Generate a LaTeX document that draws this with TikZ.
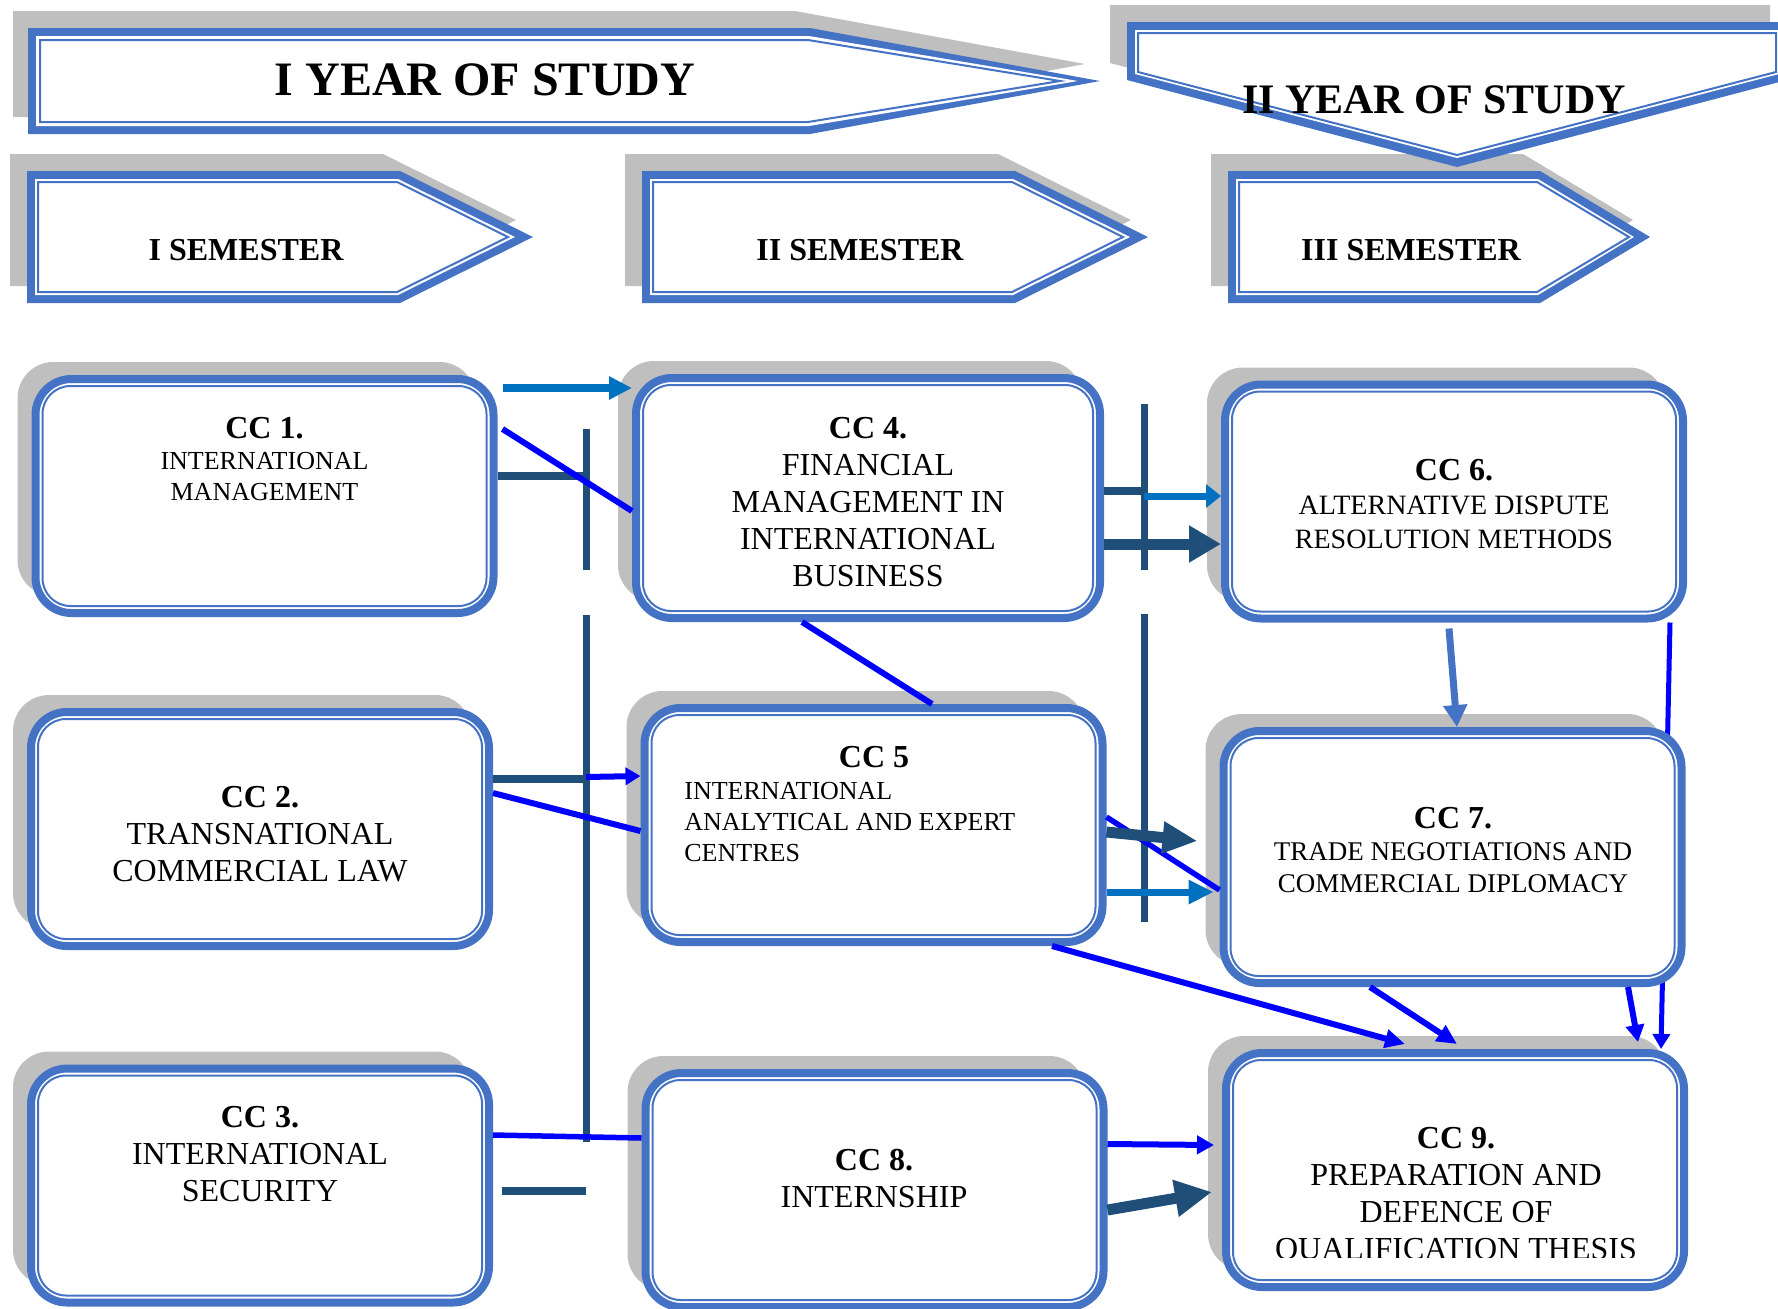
\documentclass[tikz,border=0pt]{standalone}
\usepackage{fontspec}
\setmainfont{Liberation Serif}
\usepackage{tikz}
\usetikzlibrary{shadows,arrows.meta}
\definecolor{boxblue}{HTML}{4472C4}
\definecolor{shadegray}{HTML}{BFBFBF}
\definecolor{navy}{HTML}{1F4E79}
\definecolor{midblue}{HTML}{0070C0}
\definecolor{pureblue}{HTML}{0000FF}
\pgfdeclarelayer{behind}
\pgfsetlayers{behind,main}
\newcommand{\cctitle}[1]{{\fontsize{16}{18.5}\selectfont\bfseries #1}}

\begin{document}
\begin{tikzpicture}[x=0.5pt,y=-0.5pt,
    thinblue/.style={draw=boxblue,line width=1pt},
    ccbox/.style={rectangle,draw=boxblue,fill=white,line width=4pt,rounded corners=18pt,
      minimum width=229pt,minimum height=117pt,
      drop shadow={shadow xshift=-9pt,shadow yshift=8.5pt,fill=shadegray,opacity=1}},
    cctext/.style={anchor=north,align=center,font=\fontsize{16}{18.5}\selectfont},
    cctextsmall/.style={cctext,font=\fontsize{13}{15.5}\selectfont},
    hdrtext/.style={anchor=base,font=\fontsize{16}{18}\bfseries\selectfont},
    navyline/.style={navy,line width=4pt},
    barline/.style={navy,line width=3.5pt},
    blueline/.style={pureblue,line width=3pt},
    bluearrow/.style={blueline,-{Triangle[length=8.5pt,width=9pt]}},
    midarrow/.style={midblue,line width=3.75pt,-{Triangle[length=9pt,width=11.5pt]}},
    bigarrow/.style={navy,line width=5.5pt,-{Triangle[length=16pt,width=17.5pt]}}]
  \tikzstyle{every node}+=[inner sep=0pt]
  \useasboundingbox (0,0) rectangle (1778,1308);

  \fill[shadegray] (13,11) -- (795,11) -- (1085,64) -- (795,117) -- (13,117) -- cycle;
  \fill[boxblue] (28,28) -- (810,28) -- (1100,81) -- (810,134) -- (28,134) -- cycle;
  \fill[white] (36,36) -- (809,36) -- (1078,81) -- (809,126) -- (36,126) -- cycle;
  \draw[thinblue] (40,40) -- (808,40) -- (1060,81) -- (808,122) -- (40,122) -- cycle;

  \fill[shadegray] (10,154) -- (383,154) -- (516,220) -- (383,286) -- (10,286) -- cycle;
  \fill[boxblue] (27,171) -- (400,171) -- (533,237) -- (400,303) -- (27,303) -- cycle;
  \fill[white] (35,179) -- (398,179) -- (515,237) -- (398,295) -- (35,295) -- cycle;
  \draw[thinblue] (38,182) -- (397,182) -- (508,237) -- (397,292) -- (38,292) -- cycle;

  \fill[shadegray] (625,154) -- (998,154) -- (1131,220) -- (998,286) -- (625,286) -- cycle;
  \fill[boxblue] (642,171) -- (1015,171) -- (1148,237) -- (1015,303) -- (642,303) -- cycle;
  \fill[white] (650,179) -- (1013,179) -- (1130,237) -- (1013,295) -- (650,295) -- cycle;
  \draw[thinblue] (653,182) -- (1012,182) -- (1123,237) -- (1012,292) -- (653,292) -- cycle;

  \fill[shadegray] (1211,154) -- (1523,154) -- (1633,220) -- (1523,286) -- (1211,286) -- cycle;
  \fill[boxblue] (1228,171) -- (1540,171) -- (1650,237) -- (1540,303) -- (1228,303) -- cycle;
  \fill[white] (1236,179) -- (1538,179) -- (1634,237) -- (1538,295) -- (1236,295) -- cycle;
  \draw[thinblue] (1239,182) -- (1537,182) -- (1629,237) -- (1537,292) -- (1239,292) -- cycle;

  \fill[shadegray] (1110,5) -- (1770,5) -- (1770,63) -- (1440,150) -- (1110,63) -- cycle;
  \fill[boxblue] (1127,22) -- (1787,22) -- (1787,80) -- (1457,167) -- (1127,80) -- cycle;
  \fill[white] (1135,30) -- (1779,30) -- (1779,74) -- (1457,158) -- (1135,74) -- cycle;
  \draw[thinblue] (1138,33) -- (1776,33) -- (1776,72) -- (1457,155) -- (1138,72) -- cycle;

  \node[hdrtext,font=\fontsize{24}{28}\bfseries\selectfont] (year1) at (485,95) {I YEAR OF STUDY};
  \node[hdrtext,font=\fontsize{21}{24}\bfseries\selectfont] (year2) at (1434,113) {II YEAR OF STUDY};
  \node[hdrtext] (sem1) at (246,260) {I SEMESTER};
  \node[hdrtext] (sem2) at (860,260) {II SEMESTER};
  \node[hdrtext] (sem3) at (1411,260) {III SEMESTER};

  \node[ccbox] (cc1) at (264.5,496) {};
  \node[ccbox,minimum width=232pt,minimum height=120pt] (cc4) at (868,498) {};
  \node[ccbox] (cc6) at (1454,501.5) {};
  \node[ccbox] (cc2) at (260,829) {};
  \node[ccbox] (cc5) at (873.5,825) {};
  \node[ccbox,minimum height=126pt] (cc7) at (1452.5,857) {};
  \node[ccbox] (cc3) at (260,1185.5) {};
  \node[ccbox] (cc8) at (874.5,1190) {};
  \node[ccbox] (cc9) at (1455,1170) {};
  \foreach \n in {cc1,cc2,cc3,cc4,cc5,cc6,cc7,cc8,cc9}
    \draw[thinblue,rounded corners=14pt] ([shift={(5.5pt,5.5pt)}]\n.south west) rectangle ([shift={(-5.5pt,-5.5pt)}]\n.north east);

  \node[cctextsmall] (cc1txt) at (264.5,417) {\cctitle{CC 1.}\\INTERNATIONAL\\MANAGEMENT};
  \node[cctext] (cc4txt) at (868,417) {\cctitle{CC 4.}\\FINANCIAL\\MANAGEMENT IN\\INTERNATIONAL\\BUSINESS};
  \node[cctext,font=\fontsize{14}{17}\selectfont] (cc6txt) at (1454,459) {\cctitle{CC 6.}\\ALTERNATIVE DISPUTE\\RESOLUTION METHODS};
  \node[cctext] (cc2txt) at (260,786) {\cctitle{CC 2.}\\TRANSNATIONAL\\COMMERCIAL LAW};
  \node[cctext] (cc5title) at (874,746) {\cctitle{CC 5}};
  \node[cctextsmall,anchor=north west,align=left] (cc5txt) at (684,782) {INTERNATIONAL\\ANALYTICAL AND EXPERT\\CENTRES};
  \node[cctext,font=\fontsize{13.5}{16}\selectfont] (cc7txt) at (1453,807) {\cctitle{CC 7.}\\TRADE NEGOTIATIONS AND\\COMMERCIAL DIPLOMACY};
  \node[cctext] (cc3txt) at (260,1106) {\cctitle{CC 3.}\\INTERNATIONAL\\SECURITY};
  \node[cctext] (cc8txt) at (874,1149) {\cctitle{CC 8.}\\INTERNSHIP};
  \begin{scope}
    \clip (1222,1048) rectangle (1688,1257);
    \node[cctext] (cc9txt) at (1456,1127) {\cctitle{CC 9.}\\PREPARATION AND\\DEFENCE OF\\QUALIFICATION THESIS};
  \end{scope}

  \coordinate (b1) at (586,0);
  \coordinate (b2) at (1144,0);
  \draw[barline] (b1 |- 0,429) -- (b1 |- 0,570);
  \draw[barline] (b1 |- 0,615) -- (b1 |- 0,1142);
  \draw[barline] (b2 |- 0,404) -- (b2 |- 0,570);
  \draw[barline] (b2 |- 0,614) -- (b2 |- 0,922);

  \draw[navyline] (cc1.east |- 0,476) -- (b1 |- 0,476);
  \draw[navyline] (cc2.east |- 0,779) -- (b1 |- 0,779);
  \draw[navyline] ([xshift=4.5pt]cc3.east |- 0,1191) -- (b1 |- 0,1191);
  \draw[navyline] (cc4.east |- 0,491) -- (b2 |- 0,491);

  \draw[midarrow,-{Triangle[length=11.5pt,width=11pt]}] ([xshift=2.5pt]cc1.east |- 0,388) -- (cc4.west |- 0,388);
  \draw[blueline] ([xshift=2.5pt]cc1.east |- 0,429) -- (cc4.west |- 0,511);
  \draw[midarrow,line width=3.5pt,-{Triangle[length=7.5pt,width=11.5pt]}] (b2 |- 0,496) -- (cc6.west |- 0,496);
  \draw[bigarrow] (cc4.east |- 0,544) -- (cc6.west |- 0,544);
  \draw[blueline] (cc4.south -| 802,0) -- (cc5.north -| 932,0);
  \draw[boxblue,line width=3.5pt,-{Triangle[length=11pt,width=11.5pt]}] ([yshift=-3pt]cc6.south -| 1449,0) -- (cc7.north -| 1457,0);
  \draw[bluearrow,line width=3pt,-{Triangle[length=7.5pt,width=8.5pt]}] (b1 |- 0,777) -- (cc5.west |- 0,776);
  \draw[blueline] (cc2.east |- 0,793) -- (cc5.west |- 0,831);
  \draw[blueline,line width=2.75pt] (cc3.east |- 0,1135) -- (cc8.west |- 0,1138);
  \draw[blueline,line width=2.75pt] (cc5.east |- 0,817) -- (cc7.west |- 0,890);
  \draw[bigarrow,-{Triangle[length=17.5pt,width=15pt]}] (cc5.east |- 0,832) -- ([xshift=-11pt]cc7.west |- 0,841);
  \draw[midarrow,line width=3.5pt,-{Triangle[length=12.5pt,width=11.5pt]}] (cc5.east |- 0,892) -- ([xshift=-3pt]cc7.west |- 0,892);
  \draw[bluearrow,-{Triangle[length=10pt,width=9pt]}] (cc5.south -| 1052,0) -- ([yshift=2.5pt]cc9.north -| 1405,0);
  \draw[bluearrow,-{Triangle[length=10pt,width=9pt]}] (cc7.south -| 1370,0) -- ([yshift=2.5pt]cc9.north -| 1457,0);
  \draw[bluearrow] (cc7.south -| 1628,0) -- ([yshift=3.5pt]cc9.north -| 1638,0);
  \draw[bluearrow] (cc8.east |- 0,1144) -- ([xshift=-4pt]cc9.west |- 0,1145);
  \draw[bigarrow,-{Triangle[length=18.5pt,width=17.5pt]}] (cc8.east |- 0,1210) -- ([xshift=-5pt]cc9.west |- 0,1192);
  \begin{pgfonlayer}{behind}
    \draw[bluearrow,line width=2.5pt,-{Triangle[length=7.5pt,width=8.5pt]}] (cc6.south -| 1670,0) -- (cc9.north -| 1661,0);
  \end{pgfonlayer}
\end{tikzpicture}
\end{document}
